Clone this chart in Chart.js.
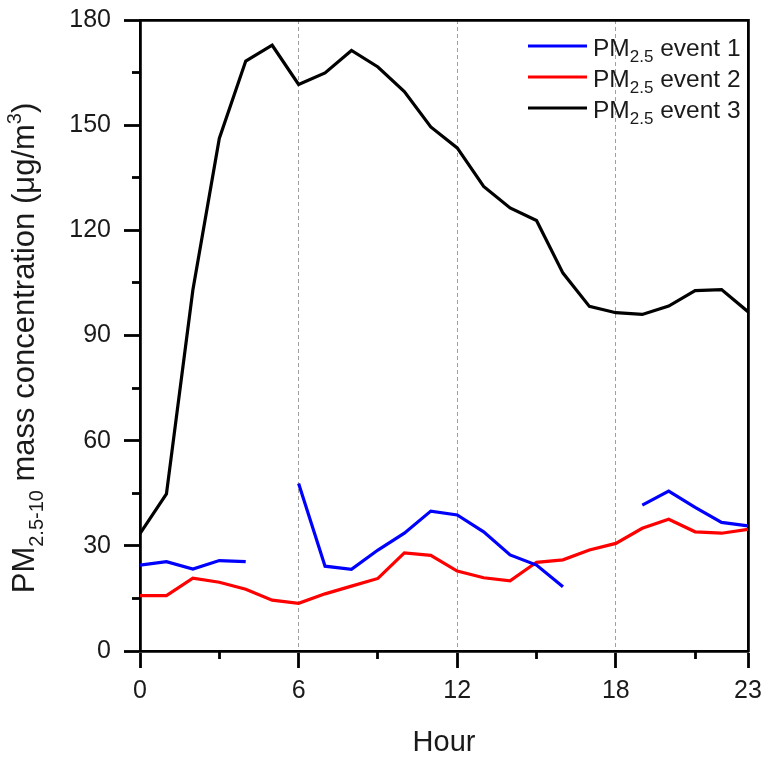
<!DOCTYPE html>
<html><head><meta charset="utf-8">
<script src="https://cdn.jsdelivr.net/npm/chart.js@4/dist/chart.umd.min.js"></script>
<style>html,body{margin:0;padding:0;background:#fff}#wrap{width:769px;height:764px;position:relative}</style>
</head><body><div id="wrap"><canvas id="c" width="769" height="764"></canvas></div>
<script>
const hours = [0,1,2,3,4,5,6,7,8,9,10,11,12,13,14,15,16,17,18,19,20,21,22,23];
const event1 = [24.5,25.5,23.4,25.8,25.5,null,47.8,24.2,23.3,28.8,33.6,39.9,38.8,34.0,27.4,24.5,18.3,null,null,41.6,45.6,41.0,36.7,35.7];
const event2 = [15.8,15.8,20.8,19.6,17.6,14.5,13.6,16.3,18.5,20.7,28.0,27.3,22.8,20.9,20.0,25.3,26.0,28.8,30.7,35.0,37.6,34.0,33.6,34.7];
const event3 = [33.5,44.8,103,146.2,168.3,172.8,161.6,164.9,171.3,166.6,159.6,149.5,143.5,132.5,126.4,122.8,107.8,98.3,96.5,96.0,98.4,102.8,103.1,96.8];
const seriesSuffix = ['event 1','event 2','event 3'];
const seriesColors = ['#0000ff','#ff0000','#000000'];
const legendMain = 'PM';
const legendSub = '2.5';
const xMajorTicks = [0,6,12,18,23];
const xMinorTicks = [3,9,15,21];
const xGridLines = [6,12,18];
const yMajorTicks = [0,30,60,90,120,150,180];
const yMinorTicks = [15,45,75,105,135,165];
const xTitle = 'Hour';
const yTitleParts = [['PM','n'],['2.5-10','sub'],[' mass concentration (μg/m','n'],['3','sup'],[')','n']];

const FONT = '"Liberation Sans", Arial, sans-serif';
const toXY = arr => hours.map((h,i)=>({x:h,y:arr[i]}));
const noPad = s => { s.paddingTop = 0; s.paddingBottom = 0; s.paddingLeft = 0; s.paddingRight = 0; };

const customLegend = {
  id:'customLegend',
  afterDraw(chart){
    const ctx = chart.ctx;
    ctx.save();
    chart.data.datasets.forEach((ds,i)=>{
      const y = 46 + i*31;
      ctx.strokeStyle = ds.borderColor; ctx.lineWidth = 3.2;
      ctx.beginPath(); ctx.moveTo(528,y); ctx.lineTo(587,y); ctx.stroke();
      ctx.fillStyle = '#1a1a1a'; ctx.textBaseline='alphabetic'; ctx.textAlign='left';
      let x = 593; const base = y + 10;
      ctx.font = '24.5px '+FONT; ctx.fillText(legendMain,x,base); x += ctx.measureText(legendMain).width;
      ctx.font = '17px '+FONT; ctx.fillText(legendSub,x,base+6); x += ctx.measureText(legendSub).width;
      ctx.font = '24.5px '+FONT; ctx.fillText(' '+seriesSuffix[i],x,base);
    });
    ctx.restore();
  }
};
const yTitlePlugin = {
  id:'yTitle',
  afterDraw(chart){
    const ctx = chart.ctx;
    const sizes = {n:31, sub:20, sup:20};
    const offs = {n:0, sub:9, sup:-13};
    ctx.save();
    let total = 0;
    yTitleParts.forEach(([t,k])=>{ ctx.font = sizes[k]+'px '+FONT; total += ctx.measureText(t).width; });
    ctx.translate(34, 348);
    ctx.rotate(-Math.PI/2);
    ctx.fillStyle = '#1a1a1a'; ctx.textBaseline='alphabetic'; ctx.textAlign='left';
    let x = -total/2;
    yTitleParts.forEach(([t,k])=>{ ctx.font = sizes[k]+'px '+FONT; ctx.fillText(t,x,offs[k]); x += ctx.measureText(t).width; });
    ctx.restore();
  }
};

const tickFont = {family:FONT, size:25};
const LW = 3.2;
new Chart(document.getElementById('c'), {
  type:'line',
  data:{ datasets:[
    {label:'PM2.5 event 1', data:toXY(event1), borderColor:seriesColors[0], borderWidth:LW, pointRadius:0, spanGaps:false, tension:0},
    {label:'PM2.5 event 2', data:toXY(event2), borderColor:seriesColors[1], borderWidth:LW, pointRadius:0, spanGaps:false, tension:0},
    {label:'PM2.5 event 3', data:toXY(event3), borderColor:seriesColors[2], borderWidth:LW, pointRadius:0, spanGaps:false, tension:0}
  ]},
  options:{
    responsive:false, animation:false, devicePixelRatio:1,
    layout:{padding:{top:20,right:21,left:0,bottom:0}},
    plugins:{legend:{display:false}, tooltip:{enabled:false}},
    scales:{
      x:{type:'linear', position:'bottom', weight:1, min:0, max:23, display:true,
        afterBuildTicks:s=>{ s.ticks = xMajorTicks.map(v=>({value:v})); },
        afterFit:s=>{ s.height = 113; noPad(s); },
        ticks:{font:tickFont, color:'#1a1a1a', padding:8, maxRotation:0, autoSkip:false, callback:v=>String(v)},
        grid:{drawOnChartArea:true, color:c=> (c.tick && xGridLines.includes(c.tick.value)) ? '#a0a0a0' : 'rgba(0,0,0,0)', lineWidth:1, tickLength:17, tickColor:'#000', tickWidth:2.8},
        border:{display:true, color:'#000', width:2.8, dash:[4,3]},
        title:{display:true, text:xTitle, font:{family:FONT,size:29}, color:'#1a1a1a', padding:{top:0,bottom:4}}
      },
      x2:{type:'linear', position:'bottom', weight:0, min:0, max:23, display:true,
        afterBuildTicks:s=>{ s.ticks = xMinorTicks.map(v=>({value:v})); },
        afterFit:s=>{ s.height = 0; noPad(s); },
        ticks:{display:false},
        grid:{drawOnChartArea:false, tickLength:8, tickColor:'#000', tickWidth:2.8},
        border:{display:false}
      },
      xTop:{type:'linear', position:'top', min:0, max:23, display:true,
        afterFit:s=>{ s.height = 0; noPad(s); },
        ticks:{display:false}, grid:{display:false},
        border:{display:true, color:'#000', width:2.8}
      },
      y:{type:'linear', position:'left', weight:1, min:0, max:180, display:true,
        afterBuildTicks:s=>{ s.ticks = yMajorTicks.map(v=>({value:v})); },
        afterFit:s=>{ s.width = 140; noPad(s); },
        ticks:{font:tickFont, color:'#1a1a1a', padding:13, callback:v=>String(v)},
        grid:{drawOnChartArea:false, tickLength:16, tickColor:'#000', tickWidth:2.8},
        border:{display:true, color:'#000', width:2.8}
      },
      y2:{type:'linear', position:'left', weight:0, min:0, max:180, display:true,
        afterBuildTicks:s=>{ s.ticks = yMinorTicks.map(v=>({value:v})); },
        afterFit:s=>{ s.width = 0; noPad(s); },
        ticks:{display:false},
        grid:{drawOnChartArea:false, tickLength:8, tickColor:'#000', tickWidth:2.8},
        border:{display:false}
      },
      yRight:{type:'linear', position:'right', min:0, max:180, display:true,
        afterFit:s=>{ s.width = 0; noPad(s); },
        ticks:{display:false}, grid:{display:false},
        border:{display:true, color:'#000', width:2.8}
      }
    }
  },
  plugins:[customLegend, yTitlePlugin]
});
</script></body></html>
